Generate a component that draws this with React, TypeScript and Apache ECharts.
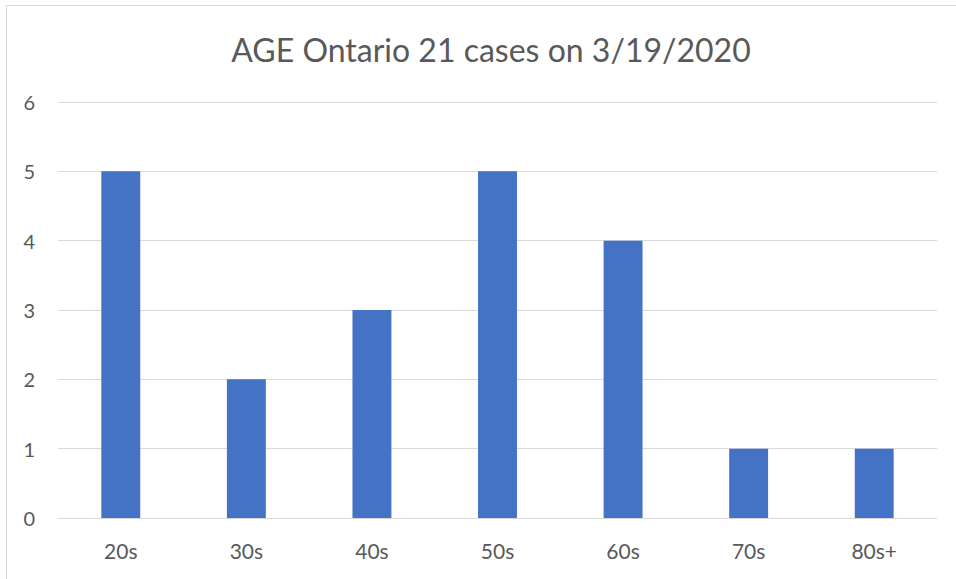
import React, { useEffect, useRef } from "react";
import * as echarts from "echarts";

const categories = ["20s", "30s", "40s", "50s", "60s", "70s", "80s+"];
const cases = [5, 2, 3, 5, 4, 1, 1];
const titleText = "AGE Ontario 21 cases on 3/19/2020";

export default function App() {
  const ref = useRef<HTMLDivElement>(null);
  useEffect(() => {
    if (!ref.current) return;
    const chart = echarts.init(ref.current, null, { renderer: "svg" });
    const font = "Lato, Open Sans, sans-serif";
    chart.setOption({
      animation: false,
      backgroundColor: "#ffffff",
      title: {
        text: titleText,
        left: 486,
        textAlign: "center",
        top: 28,
        textStyle: { fontFamily: font, fontSize: 32, fontWeight: "normal", color: "#595959" },
      },
      graphic: [
        {
          type: "rect",
          shape: { x: 6.5, y: 5.5, width: 1000, height: 700 },
          style: { fill: "none", stroke: "#d9d9d9", lineWidth: 1 },
          silent: true,
        },
      ],
      grid: { left: 58, right: 19, top: 102, bottom: 61 },
      xAxis: {
        type: "category",
        data: categories,
        axisTick: { show: false },
        axisLine: { lineStyle: { color: "#d9d9d9", width: 1 } },
        axisLabel: { fontFamily: font, fontSize: 21, color: "#595959", margin: 22 },
      },
      yAxis: {
        type: "value",
        min: 0,
        max: 6,
        interval: 1,
        splitLine: { lineStyle: { color: "#d9d9d9", width: 1 } },
        axisLabel: { fontFamily: font, fontSize: 20, color: "#595959", margin: 23 },
      },
      series: [
        {
          type: "bar",
          data: cases,
          barWidth: "31%",
          itemStyle: { color: "#4472c4" },
        },
      ],
    });
    return () => chart.dispose();
  }, []);
  return (
    <div
      ref={ref}
      style={{ position: "fixed", left: 0, top: 0, width: 956, height: 579 }}
    />
  );
}
